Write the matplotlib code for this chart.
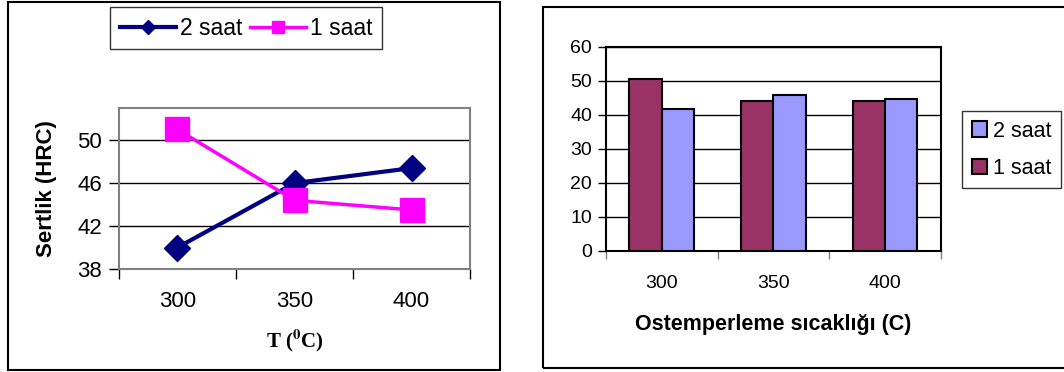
import numpy as np
import matplotlib.pyplot as plt
from matplotlib.patches import Rectangle

plt.rcParams['font.family'] = ['Liberation Sans', 'DejaVu Sans']
plt.rcParams['mathtext.fontset'] = 'stix'

# data
temps = ['300', '350', '400']
saat2_line = [40.0, 46.0, 47.4]
saat1_line = [51.0, 44.4, 43.5]
saat1_bar = [50.5, 44.1, 44.1]
saat2_bar = [41.8, 45.8, 44.7]

fig = plt.figure(figsize=(10.64, 3.72), dpi=100)

# outer frames round each chart
fig.patches.append(Rectangle((0.0075, 0.0054), 0.4624, 0.989, transform=fig.transFigure,
                             fill=False, edgecolor='black', linewidth=1.5))
fig.patches.append(Rectangle((0.5103, 0.0108), 0.55, 0.970, transform=fig.transFigure,
                             fill=False, edgecolor='black', linewidth=1.5))

# ---- left: line chart ----
ax1 = fig.add_axes([0.1118, 0.2769, 0.330, 0.4328])
x = np.arange(len(temps))
l2, = ax1.plot(x, saat2_line, color='#000080', linewidth=3, marker='D', markersize=13,
               label='2 saat', zorder=3)
l1, = ax1.plot(x, saat1_line, color='#FF00FF', linewidth=2.5, marker='s', markersize=17,
               label='1 saat', zorder=3)
ax1.set_xlim(-0.5, 2.5)
ax1.set_ylim(38, 53)
ax1.set_yticks([38, 42, 46, 50])
ax1.yaxis.grid(True, color='black', linewidth=1)
ax1.set_axisbelow(True)
ax1.set_xticks([-0.5, 0.5, 1.5, 2.5])
ax1.set_xticklabels([])
ax1.set_xticks(x, minor=True)
ax1.set_xticklabels(temps, minor=True)
ax1.tick_params(axis='x', which='minor', length=0, pad=16, labelsize=16)
ax1.tick_params(axis='x', which='major', length=7, width=1, color='black')
ax1.tick_params(axis='y', length=7, width=1, labelsize=16, pad=5)
for s in ax1.spines.values():
    s.set_color('#808080')
    s.set_linewidth(1.5)
ax1.set_ylabel('Sertlik (HRC)', fontsize=16, fontweight='bold', labelpad=15)
ax1.set_xlabel(r'T ($\mathbf{^0}$C)', fontsize=15, fontweight='bold',
               family='Liberation Serif', labelpad=11)
fig.legend(handles=[l2, l1], loc='upper left', bbox_to_anchor=(0.1034, 0.981),
           borderaxespad=0, ncol=2, fontsize=16.5, frameon=True, fancybox=False,
           edgecolor='black', handlelength=2.45, handletextpad=0.2, columnspacing=0.3,
           borderpad=0.42, markerscale=0.55)

# ---- right: bar chart ----
ax2 = fig.add_axes([0.5695, 0.3253, 0.3148, 0.5484])
w = 0.29
b1 = ax2.bar(x - w / 2, saat1_bar, width=w, color='#993366', edgecolor='black',
             linewidth=1.5, label='1 saat', zorder=3)
b2 = ax2.bar(x + w / 2, saat2_bar, width=w, color='#9999FF', edgecolor='black',
             linewidth=1.5, label='2 saat', zorder=3)
ax2.set_xlim(-0.5, 2.5)
ax2.set_ylim(0, 60)
ax2.set_yticks(range(0, 61, 10))
ax2.yaxis.grid(True, color='black', linewidth=1)
ax2.set_axisbelow(True)
ax2.set_xticks([-0.5, 0.5, 1.5, 2.5])
ax2.set_xticklabels([])
ax2.set_xticks(x, minor=True)
ax2.set_xticklabels(temps, minor=True)
ax2.tick_params(axis='x', which='minor', length=0, pad=17, labelsize=14)
ax2.tick_params(axis='x', which='major', length=6, width=1, color='#808080')
ax2.tick_params(axis='y', length=6, width=1, labelsize=14, pad=4)
for s in ax2.spines.values():
    s.set_color('black')
    s.set_linewidth(1.5)
ax2.set_xlabel('Ostemperleme sıcaklığı (C)', fontsize=15.5, fontweight='bold', labelpad=16)
fig.legend(handles=[b2, b1], loc='upper left', bbox_to_anchor=(0.904, 0.702),
           borderaxespad=0, fontsize=15.5, frameon=True, fancybox=False, edgecolor='black',
           handlelength=0.7, handleheight=0.7, handletextpad=0.3, labelspacing=0.75,
           borderpad=0.45)

fig.savefig('out.png', dpi=100)
